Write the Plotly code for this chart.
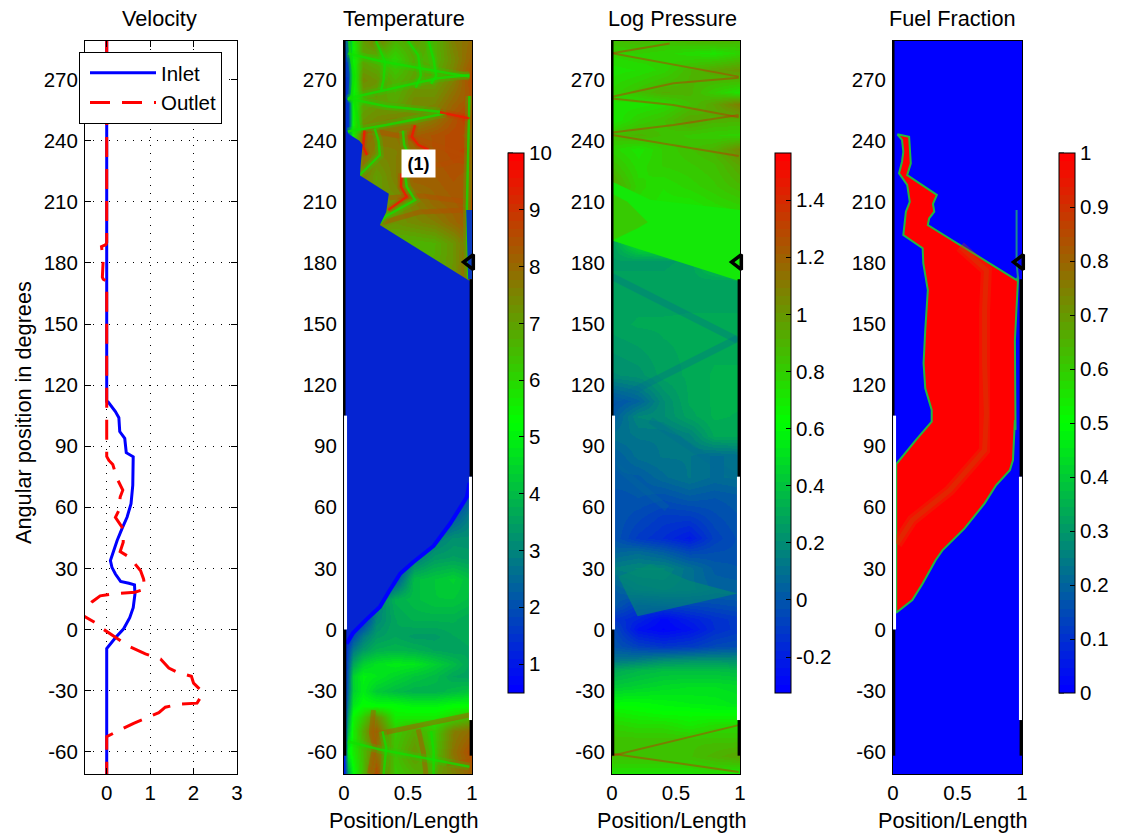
import plotly.graph_objects as go

# ---------- velocity panel ----------
INLET_V = [0, 0, .2, .39, .53, .61, .65, .64, .51, .32, .2, .12, .085, .16, .24, .35, .47, .56, .6, .61, .45, .415, .3, .28, .2, .03, 0, 0]
INLET_A = [-71, -9.4, -4.1, .3, 5.8, 10.7, 17.3, 21.9, 22.7, 23.6, 27.2, 30.5, 33.8, 38.7, 43.7, 49.4, 55.2, 61.8, 70.8, 84.8, 86.8, 93.9, 97.2, 104, 107, 111.8, 112, 289]
OUTLET_V = [0, 0, -.02, -.12, -.08, -.1, -.08, 0, 0, 0, .05, .14, .24, .37, .31, .28, .2, .38, .38, .31, .53, .78, .85, .88, .65, .18, -.15, -.34, -.47, -.6, -.26, -.07, .2, .5, .89, 1.24, 1.43, 1.62, 1.95, 2.0, 2.2, 2.2, 2.08, 1.66, 1.35, 1.2, .93, .62, .18, 0, 0]
OUTLET_A = [289, 190, 189, 188, 182, 173, 172, 171, 112, 85, 83, 81, 74, 68.4, 65, 58.5, 55, 49.4, 42.8, 38.2, 35.4, 28.8, 24.7, 19.8, 18.3, 17.6, 16.5, 13.5, 9.9, 7.5, 3.3, 0, -3.8, -8.2, -12, -14.5, -19, -21, -23, -26.4, -30.5, -32, -36.2, -36.7, -38.2, -40.9, -43.3, -46.1, -50.7, -52.7, -71]

Y_TICKS = [-60, -30, 0, 30, 60, 90, 120, 150, 180, 210, 240, 270]

# ---------- temperature panel ----------
T_X = [0, .03, .07, .15, .25, .4, .55, .7, .85, 1]
T_Y = [-71, -60, -50, -43, -37, -30, -23, -17, -10, -3, 5, 15, 25, 35, 45, 55, 65, 75, 170,
       172, 190, 200, 210, 222, 235, 243, 250, 260, 270, 280, 289]
T_Z = [
    [1, 3.5, 5.2, 6.5, 8.6, 6.2, 6.6, 7, 7.5, 8.2],
    [1, 5, 5.6, 6.5, 7.8, 6.4, 7.2, 6.4, 7.8, 8.6],
    [1, 4, 5.6, 6.8, 8.2, 6.2, 6.8, 6.2, 7.6, 8],
    [1, 3.5, 5.4, 6.2, 7.4, 5.6, 5.6, 5.6, 6, 6.6],
    [1, 3, 4.8, 5.3, 5.2, 5.2, 5, 5, 5.2, 5.2],
    [1, 2.6, 4.4, 4.9, 4.3, 4.0, 3.8, 3.8, 4, 4.2],
    [1, 2.4, 4.4, 5, 4.8, 4.5, 4.2, 4, 3.6, 3.5],
    [1, 2.2, 3.6, 4.4, 4.7, 4.9, 4.8, 4.4, 4, 3.5],
    [1, 1.8, 2.8, 3.4, 3.8, 3.9, 3.8, 3.6, 3.5, 3.6],
    [1, 1.2, 1.9, 2.8, 3.4, 3.6, 3.4, 3.4, 3.6, 3.7],
    [.7, .9, 1, 1.5, 3, 3.6, 3.8, 3.8, 3.8, 3.6],
    [.8, .8, .8, .8, 2.8, 3.8, 4, 4.2, 4.2, 4],
    [.8, .8, .8, .8, .8, 2, 4, 4.2, 4.4, 4],
    [.8, .8, .8, .8, .8, 1.2, 2.8, 3.4, 3.5, 3.4],
    [.8, .8, .8, .8, .8, .8, 1.5, 2.8, 3.2, 3.2],
    [.8, .8, .8, .8, .8, .8, .8, 1, 2.2, 3],
    [.8, .8, .8, .8, .8, .8, .8, .8, 1.5, 2.3],
    [.7, .7, .7, .7, .7, .7, .7, .7, .7, .7],
    [1, 1, 1, 1, 1, 1, 1, 1, 1, 1],
    [6.7, 6.7, 6.7, 6.7, 6.7, 6.7, 6.7, 6.8, 7.2, 8.4],
    [6.7, 6.7, 6.7, 6.7, 6.6, 6.6, 6.6, 6.7, 7.2, 8],
    [7, 7, 7, 7.4, 7.4, 7.2, 7.4, 7.6, 8, 8.4],
    [1.2, 1.5, 7, 7.5, 7.2, 7.2, 7.6, 8, 8.2, 8.4],
    [1.2, 1.5, 6.5, 7.6, 7, 7.6, 8.2, 8.2, 8.4, 8.2],
    [1.2, 1.5, 6.5, 8, 7.5, 7.6, 8, 8.4, 8.6, 8.8],
    [1.2, 1.6, 5.6, 7.8, 7.8, 7.8, 8.2, 8.4, 8.6, 8.4],
    [1.2, 1.6, 5.4, 7.2, 7.4, 7.6, 7.4, 7.8, 8.4, 9],
    [1.2, 1.6, 5.2, 6.8, 7, 6.8, 7.4, 7.4, 8, 8.4],
    [1.2, 1.8, 5.2, 7.4, 7.2, 6.6, 7, 7, 7.6, 8.6],
    [1.4, 2, 5.4, 6.8, 6.6, 6, 6.8, 6.6, 7.4, 8.2],
    [1.4, 2.4, 5.6, 7, 7.6, 6.6, 7, 6.6, 7.6, 8],
]
T_COLD_X = [0, .03, .12, .145, .13, .125, .35, .335, .33, .28, .97, 1, 1, .96, .83, .7, .54, .44, .35, .28, .17, .07, .02, 0, 0]
T_COLD_Y = [245, 243.6, 240, 238, 228, 223, 214, 207.6, 205, 198.6, 171.6, 171, 72, 65, 52, 41, 33, 27.5, 18.5, 11, 4.6, -1.8, -7, -10, 245]
T_FRONT_X = [.98, .96, .83, .7, .54, .44, .35, .28, .17, .07, .02]
T_FRONT_Y = [72, 65, 52, 41, 33, 27.5, 18.5, 11, 4.6, -1.8, -7]
T_SLIVER_X = [.955, 1, 1, .97, .955]
T_SLIVER_Y = [206, 206, 172, 172, 206]
T_GREEN = [
    ([.03, .31, .75, .98], [282.9, 278.8, 273.9, 271.5]),
    ([.03, .31, .73, .98], [260.8, 264.9, 270.7, 272.3]),
    ([.03, .33, .75], [260.8, 257, 254.3]),
    ([.03, .33, .8], [244.5, 247.7, 253.5]),
    ([.04, .05, .08, .06, .03], [289, 282, 272, 262, 260]),
    ([.08, .1, .12, .03], [260, 252, 246, 244.5]),
    ([.25, .32, .31, .29], [289, 279, 270, 265]),
    ([.5, .58, .6, .56], [289, 282, 272, 266]),
    ([.66, .7, .72, .68], [289, 280, 272, 268]),
    ([.24, .27, .28, .12], [246, 240, 233, 223]),
    ([.46, .47, .5, .56], [245, 238, 234, 231]),
    ([.48, .49, .555, .32, .28], [222, 217.4, 210.9, 202.7, 199.4]),
    ([.98, .97, .96, .97], [262, 235, 207, 172]),
    ([.3, .33, .31], [-50, -58, -71]),
    ([.68, .7, .7], [-50, -60, -71]),
    ([.03, .28, .98], [-55, -59, -67.4]),
]
T_RED = [
    ([.45, .445, .49, .345], [224, 217.4, 212.5, 206]),
    ([.555, .53, .58, .66], [247.7, 242, 238, 235.5]),
    ([.75, .98], [254, 251]),
    ([.16, .15, .18], [245, 237, 233]),
]
T_BROWN = [
    ([.28, .59, .96], [199.4, 205, 206]),
    ([.35, .6, .96], [212, 213, 210]),
    ([.15, .2, .6, .98], [244, 245.3, 240.4, 232]),
    ([.5, .75, .98], [231, 228, 232]),
    ([.23, .215, .24, .2], [-39.6, -51, -57.6, -70.7]),
    ([.29, .98], [-51, -42]),
    ([.58, .62, .64], [-49, -60, -71]),
    ([.8, .98], [-66, -65]),
]
ANNOT_X, ANNOT_Y, ANNOT_TEXT = .58, 229, "(1)"

# ---------- pressure panel ----------
P_X = [0, .2, .4, .6, .8, 1]
P_Y = [-71, -62, -55, -47, -40, -36, -28, -20, -15, -8, 0, 5, 12, 20, 30, 38, 45, 55, 65, 75, 85, 95, 105, 112, 125, 150, 171, 181, 192, 207, 218, 228, 236, 243, 250, 258, 264, 275, 283, 289]
P_Z = [
    [.72, .72, .72, .72, .74, .68],
    [.85, .85, .85, .85, .9, .95],
    [.85, .85, .85, .85, .85, .85],
    [.78, .75, .75, .7, .75, .75],
    [.68, .65, .62, .62, .6, .6],
    [.6, .6, .58, .56, .55, .52],
    [.42, .45, .48, .5, .5, .48],
    [.3, .35, .38, .38, .38, .36],
    [.12, .15, .2, .22, .22, .22],
    [0, -.08, -.12, -.1, -.05, -.03],
    [-.03, -.25, -.3, -.25, -.15, -.1],
    [-.12, -.18, -.28, -.2, -.14, -.1],
    [.02, -.1, -.08, -.06, -.04, -.02],
    [.02, .1, .12, .1, .05, .05],
    [.15, .18, .18, .1, .02, 0],
    [.05, .08, .03, -.05, -.03, -.02],
    [0, -.1, -.15, -.22, -.08, -.02],
    [0, -.05, -.1, -.1, -.04, 0],
    [-.02, 0, -.02, .02, 0, .02],
    [.02, .02, .08, .12, .08, .1],
    [.02, .1, .12, .12, .08, .1],
    [.1, .12, .12, .16, .3, .3],
    [.02, .18, .2, .28, .33, .32],
    [-.02, .05, .2, .3, .33, .33],
    [.2, .22, .28, .3, .33, .33],
    [.28, .3, .3, .3, .3, .3],
    [.27, .27, .27, .28, .28, .28],
    [.26, .26, .26, .27, .45, .62],
    [.27, .6, .62, .65, .66, .64],
    [.8, .75, .72, .7, .75, .78],
    [.95, .78, .74, .78, .82, .88],
    [.85, .75, .8, .82, .85, .95],
    [.78, .72, .8, .85, .9, 1.05],
    [.85, .9, .85, .82, .8, .78],
    [.7, .8, .85, .95, .9, .9],
    [.72, .72, .75, .85, .95, 1.1],
    [.78, .85, .92, .9, .8, .72],
    [.72, .74, .78, .88, .95, 1.0],
    [.78, .8, .78, .75, .72, .78],
    [.85, .88, .85, .88, .9, .88],
]
P_WEDGE_X = [0, 1, 1, .3, 0, 0]
P_WEDGE_Y = [191, 171, 206, 211, 220, 191]
P_OLIVE_X = [0, .2, .28, .12, 0, 0]
P_OLIVE_Y = [191, 197, 200, 210, 214, 191]
P_RIDGE_X = [.2, .98, .6, .3, .05, .2]
P_RIDGE_Y = [6.5, 17.7, 24, 32, 26, 6.5]
P_BROWN = [
    ([0, .48, .99], [261.6, 268.2, 271]),
    ([0, .48, .99], [260.8, 257.6, 251.5]),
    ([0, .48, .99], [244, 247.7, 252.6]),
    ([0, .99], [242.8, 232.5]),
    ([0, .99], [283, 271.5]),
    ([0, .45], [283, 287.8]),
    ([0, .99], [-61, -70]),
    ([0, .99], [-62, -47]),
]
P_TEAL = [
    ([0, .98], [173.3, 142.1]),
    ([0, .98], [111.9, 143]),
    ([0, .43], [82, 59.4]),
    ([.3, .98], [102.8, 74]),
]

# ---------- fuel panel ----------
F_X = [0, 1]
F_Y = [-71, 289]
F_Z = [[0, 0], [0, 0]]
F_BODY_X = [.034, .07, .08, .07, .047, .11, .13, .1, .08, .23, .235, .27, .25, .237, .25, .30, .30, .177, .025, .025, .15, .23, .33, .385, .555, .71, .80, .906, .93, .945, .95, .945, .97, .958, .4375, .27, .28, .32, .31, .34, .11, .138, .125, .034]
F_BODY_Y = [243.2, 240.4, 234.6, 229.7, 224, 218.3, 210, 205.2, 193.7, 187.2, 179.8, 166.7, 147, 130.7, 118.4, 107.8, 102, 93, 81.2, 8.2, 14.4, 22.6, 34, 39, 49.6, 61.9, 70.9, 78.2, 83.2, 102.8, 98, 142, 173.2, 171.6, 192, 198.6, 201.9, 205.2, 209, 213.4, 223.2, 228.9, 242, 243.2]
F_CORE_X = [.52, .724, .71, .71, .724, .71, .44, .15, .03]
F_CORE_Y = [188, 176.5, 156.9, 130.7, 106, 88, 68.4, 53.7, 42]
F_STRIP_X = [.958, .958, .97]
F_STRIP_Y = [206, 180, 172]

# ---------- walls (open ports are white, closed wall black) ----------
WALL_BLACK_LEFT = ([-62, 0], [105, 289])
WALL_WHITE_LEFT = [0, 105]
WALL_BLACK_RIGHT = ([-62, -44.5], [75, 172])
WALL_WHITE_RIGHT = [-44.5, 75]
MARK_X, MARK_Y = .985, 180.4

# ---------- colour bars ----------
T_CB = dict(lo=.49, hi=10, ticks=[1, 2, 3, 4, 5, 6, 7, 8, 9, 10], text=["1", "2", "3", "4", "5", "6", "7", "8", "9", "10"])
P_CB = dict(lo=-.326, hi=1.565, ticks=[-.2, 0, .2, .4, .6, .8, 1, 1.2, 1.4], text=["-0.2", "0", "0.2", "0.4", "0.6", "0.8", "1", "1.2", "1.4"])
F_CB = dict(lo=0, hi=1, ticks=[0, .1, .2, .3, .4, .5, .6, .7, .8, .9, 1], text=["0", "0.1", "0.2", "0.3", "0.4", "0.5", "0.6", "0.7", "0.8", "0.9", "1"])

W, H = 1121, 836
FONT = "Liberation Sans, Arial, sans-serif"
TICK = 20.5
TITLE = 21.7


def jet(t):
    if t < .5:
        return f"rgb(0,{round(510 * t)},{round(255 - 510 * t)})"
    return f"rgb({round(510 * (t - .5))},{round(255 - 510 * (t - .5))},0)"


LEVELS = 64
SCALE = []
for i in range(LEVELS):
    c = jet(i / (LEVELS - 1))
    SCALE += [[i / LEVELS, c], [(i + 1) / LEVELS, c]]

fig = go.Figure()
panels = [(85, 237), (344, 472), (612, 740), (893, 1022)]
TOP, BOT = 41, 774
Y_DOM = [1 - BOT / H, 1 - TOP / H]
layout = dict(
    width=W, height=H, margin=dict(l=0, r=0, t=0, b=0, autoexpand=False), paper_bgcolor="white", plot_bgcolor="white",
    font=dict(family=FONT, size=TICK, color="black"),
    legend=dict(x=79 / W, y=1 - 52 / H, xanchor="left", yanchor="top", bgcolor="white", bordercolor="black", borderwidth=1,
                itemwidth=66, indentation=5, entrywidth=64, entrywidthmode="pixels", font=dict(size=TICK), traceorder="normal"),
    showlegend=True, annotations=[], shapes=[],
)
for i, (a, b) in enumerate(panels):
    s = "" if i == 0 else str(i + 1)
    layout["xaxis" + s] = dict(
        domain=[a / W, b / W], anchor="y" + s, range=[-.5, 3] if i == 0 else [0, 1],
        tickvals=[0, 1, 2, 3] if i == 0 else [0, .5, 1], ticktext=["0", "1", "2", "3"] if i == 0 else ["0", "0.5", "1"],
        ticks="inside" if i == 0 else "", ticklen=6, tickcolor="black", showline=True, linecolor="black", linewidth=1, mirror="ticks" if i == 0 else True,
        showgrid=i == 0, gridcolor="black", griddash="1px,7px", gridwidth=1, zeroline=False, tickfont=dict(size=TICK),
        layer="above traces",
    )
    layout["yaxis" + s] = dict(
        domain=Y_DOM, anchor="x" + s, range=[-71, 289], tickvals=Y_TICKS, ticktext=[str(v) for v in Y_TICKS],
        ticks="inside" if i == 0 else "", ticklen=6, tickcolor="black", showline=True, linecolor="black", linewidth=1, mirror="ticks" if i == 0 else True,
        showgrid=i == 0, gridcolor="black", griddash="1px,7px", gridwidth=1, zeroline=False, tickfont=dict(size=TICK),
        ticklabelstandoff=2, layer="above traces",
    )

for txt, cx in zip(["Velocity", "Temperature", "Log Pressure", "Fuel Fraction"], [159, 404, 672, 952]):
    layout["annotations"].append(dict(text=txt, x=cx / W, y=1 - 19 / H, xref="paper", yref="paper", showarrow=False,
                                      xanchor="center", yanchor="middle", font=dict(size=TITLE)))
for cx in [404, 672, 953]:
    layout["annotations"].append(dict(text="Position/Length", x=cx / W, y=1 - 820 / H, xref="paper", yref="paper", showarrow=False,
                                      xanchor="center", yanchor="middle", font=dict(size=TITLE)))
layout["annotations"].append(dict(text="Angular position in degrees", x=23 / W, y=1 - 413 / H, xref="paper", yref="paper", showarrow=False,
                                  textangle=-90, xanchor="center", yanchor="middle", font=dict(size=TITLE)))
layout["annotations"].append(dict(text=f"<b>{ANNOT_TEXT}</b>", x=ANNOT_X, y=ANNOT_Y, xref="x2", yref="y2", showarrow=False, bgcolor="white",
                                  font=dict(size=18), width=31, height=25))

# velocity
fig.add_trace(go.Scatter(x=INLET_V, y=INLET_A, mode="lines", name="Inlet", line=dict(color="#0000ff", width=3)))
fig.add_trace(go.Scatter(x=OUTLET_V, y=OUTLET_A, mode="lines", name="Outlet", line=dict(color="#ff0000", width=3, dash="20px,12px")))


def hm(x, y, z, cb, bar_x, sub):
    fig.add_trace(go.Heatmap(
        x=x, y=y, z=z, xaxis="x" + sub, yaxis="y" + sub, colorscale=SCALE, zmin=cb["lo"], zmax=cb["hi"], zsmooth="best", hoverinfo="skip",
        colorbar=dict(x=bar_x / W, xanchor="left", y=1 - 693 / H, yanchor="bottom", len=540 / H, lenmode="fraction", thickness=16, thicknessmode="pixels",
                      xpad=0, ypad=0, outlinecolor="black", outlinewidth=1, ticks="inside", ticklen=5, tickcolor="black", tickwidth=1,
                      tickvals=cb["ticks"], ticktext=cb["text"], tickfont=dict(size=TICK))))
    for v in cb["ticks"]:
        yy = 1 - 693 / H + (540 / H) * (v - cb["lo"]) / (cb["hi"] - cb["lo"])
        layout["shapes"].append(dict(type="line", xref="paper", yref="paper", x0=bar_x / W, x1=(bar_x + 5) / W, y0=yy, y1=yy, line=dict(color="black", width=1)))


def poly(x, y, color, sub, line=None, lw=0):
    fig.add_trace(go.Scatter(x=x, y=y, xaxis="x" + sub, yaxis="y" + sub, mode="lines", fill="toself", fillcolor=color,
                             line=dict(color=line or color, width=lw), hoverinfo="skip", showlegend=False))


def lines(items, color, width, opacity, sub):
    for x, y in items:
        fig.add_trace(go.Scatter(x=x, y=y, xaxis="x" + sub, yaxis="y" + sub, mode="lines", opacity=opacity,
                                 line=dict(color=color, width=width), hoverinfo="skip", showlegend=False))


def walls(sub):
    lines([([.006] * 2, WALL_BLACK_LEFT[0])], "black", 3, 1, sub)
    lines([([.004] * 2, WALL_BLACK_LEFT[1])], "black", 2, 1, sub)
    lines([([.012] * 2, WALL_WHITE_LEFT)], "white", 3, 1, sub)
    for seg in WALL_BLACK_RIGHT:
        lines([([.991] * 2, seg)], "black", 2.5, 1, sub)
    lines([([.988] * 2, WALL_WHITE_RIGHT)], "white", 3, 1, sub)
    fig.add_trace(go.Scatter(x=[MARK_X], y=[MARK_Y], xaxis="x" + sub, yaxis="y" + sub, mode="markers", cliponaxis=False,
                             marker=dict(symbol="triangle-left-open", size=13, color="black", line=dict(color="black", width=3.5)),
                             hoverinfo="skip", showlegend=False))


# temperature
hm(T_X, T_Y, T_Z, T_CB, 508, "2")
lines(T_BROWN, "#b84c00", 5, .45, "2")
lines(T_GREEN, "#10e000", 8, .22, "2")
lines(T_RED, "#f01800", 7, .2, "2")
lines(T_GREEN, "#10e000", 2.5, .75, "2")
lines(T_RED, "#f01800", 2.5, .85, "2")
poly(T_COLD_X, T_COLD_Y, "#0524d2", "2")
poly(T_SLIVER_X, T_SLIVER_Y, "#0a3cc0", "2")
lines([(T_FRONT_X, T_FRONT_Y)], "#0000ff", 4, 1, "2")
walls("2")

# pressure
hm(P_X, P_Y, P_Z, P_CB, 775, "3")
poly(P_WEDGE_X, P_WEDGE_Y, "#14e808", "3")
poly(P_OLIVE_X, P_OLIVE_Y, "rgba(70,190,0,.7)", "3")
poly(P_RIDGE_X, P_RIDGE_Y, "rgba(0,140,110,.6)", "3")
lines(P_BROWN, "#b83c00", 2, .5, "3")
lines(P_TEAL, "#006a98", 7, .3, "3")
walls("3")

# fuel
hm(F_X, F_Y, F_Z, F_CB, 1059, "4")
poly(F_BODY_X, F_BODY_Y, "#ff0000", "4", line="#20b840", lw=2)
lines([(F_CORE_X, F_CORE_Y)], "#d84000", 11, .3, "4")
lines([(F_CORE_X, F_CORE_Y)], "#c84800", 5, .35, "4")
lines([(F_STRIP_X, F_STRIP_Y)], "#1a8a90", 2, 1, "4")
walls("4")

fig.update_layout(**layout)
fig.write_html("out.html", config=dict(displayModeBar=False), post_script="document.body.style.margin='0';window.dispatchEvent(new Event('resize'));")
